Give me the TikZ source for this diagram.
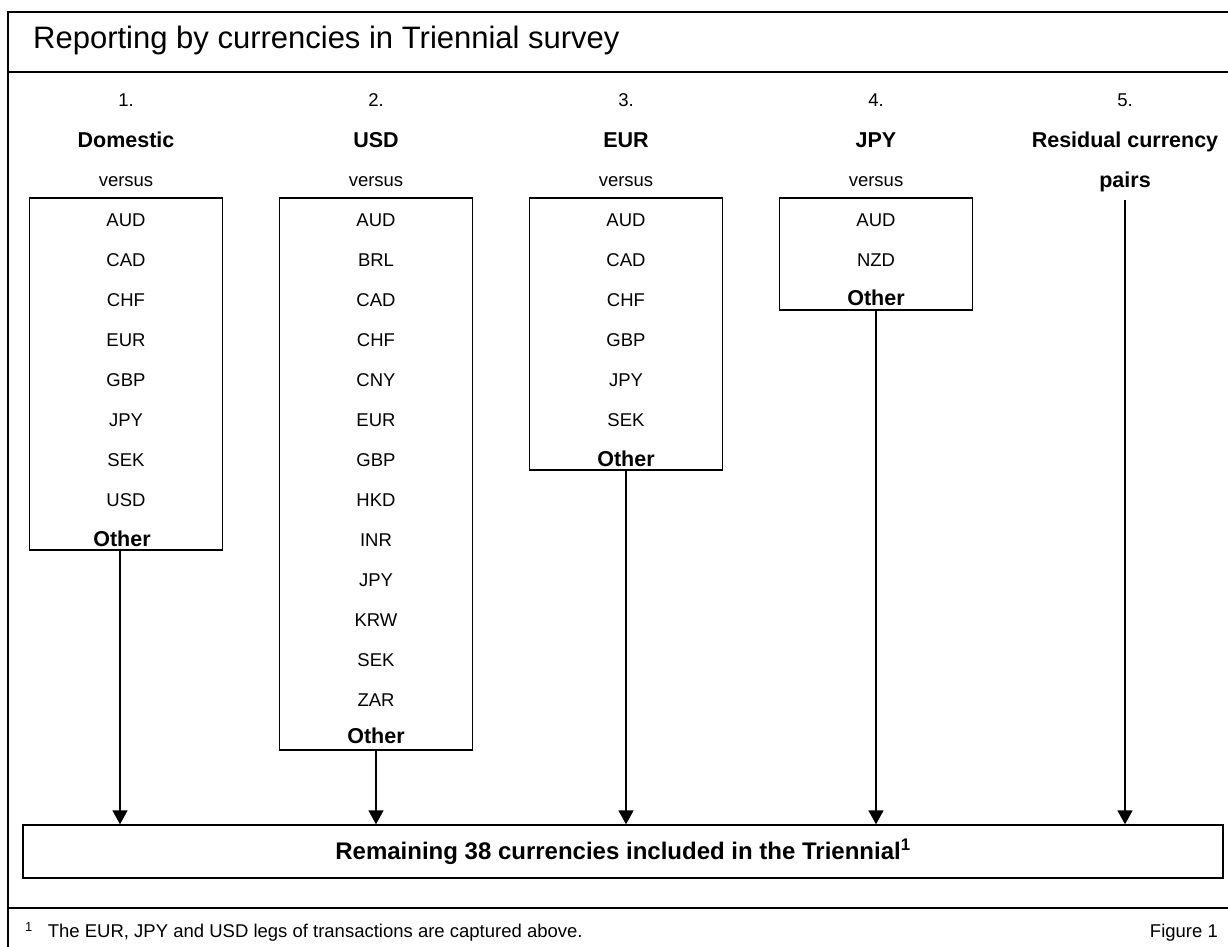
\documentclass[tikz,border=0pt]{standalone}
\usepackage{fontspec}
\setmainfont{Liberation Sans}
\usetikzlibrary{arrows.meta}

\begin{document}
\begin{tikzpicture}[x=1pt,y=-1pt,
  frame/.style={line width=2pt},
  curbox/.style={draw,line width=1.3pt,minimum width=193pt,inner sep=0pt},
  item/.style={font=\fontsize{18.5}{21}\selectfont,text height=13.2pt,text depth=0pt,inner sep=0pt},
  head/.style={font=\fontsize{21.5}{24}\selectfont\bfseries,text height=15.4pt,text depth=0pt,inner sep=0pt},
  foot/.style={font=\fontsize{18.5}{21}\selectfont,text height=13.2pt,text depth=0pt,inner sep=0pt},
  flow/.style={line width=1.3pt,-{Triangle[width=15pt,length=14pt]}}]
\useasboundingbox (0,0) rectangle (1228,947);

% outer frame
\draw[frame] (1228,12) -- (8,12) -- (8,947);
\draw[frame] (8,72) -- (1228,72);
\draw[frame] (8,908) -- (1228,908);
\node[anchor=west,font=\fontsize{31}{34}\selectfont,text height=22pt,text depth=0pt,inner sep=0pt] (T) at (33,38) {Reporting by currencies in Triennial survey};

% column headings
\node[item] (N1) at (126,100) {1.};
\node[item] (N2) at (376,100) {2.};
\node[item] (N3) at (626,100) {3.};
\node[item] (N4) at (876,100) {4.};
\node[item] (N5) at (1125,100) {5.};
\node[head] (H1) at (126,140) {Domestic};
\node[head] (H2) at (376,140) {USD};
\node[head] (H3) at (626,140) {EUR};
\node[head] (H4) at (876,140) {JPY};
\node[head] (H5a) at (1125,140) {Residual currency};
\node[head] (H5b) at (1125,180) {pairs};
\node[item] (V1) at (126,180) {versus};
\node[item] (V2) at (376,180) {versus};
\node[item] (V3) at (626,180) {versus};
\node[item] (V4) at (876,180) {versus};

% 1. domestic
\node[curbox,minimum height=352pt] (B1) at (126,374) {};
\foreach \c [count=\i] in {AUD,CAD,CHF,EUR,GBP,JPY,SEK,USD}
  \node[item] (B1-\i) at (126,180+40*\i) {\c};
\node[head] (O1) at (122,539) {Other};

% 2. USD
\node[curbox,minimum height=552pt] (B2) at (376,474) {};
\foreach \c [count=\i] in {AUD,BRL,CAD,CHF,CNY,EUR,GBP,HKD,INR,JPY,KRW,SEK,ZAR}
  \node[item] (B2-\i) at (376,180+40*\i) {\c};
\node[head] (O2) at (376,736) {Other};

% 3. EUR
\node[curbox,minimum height=272pt] (B3) at (626,334) {};
\foreach \c [count=\i] in {AUD,CAD,CHF,GBP,JPY,SEK}
  \node[item] (B3-\i) at (626,180+40*\i) {\c};
\node[head] (O3) at (626,459) {Other};

% 4. JPY
\node[curbox,minimum height=112pt] (B4) at (876,254) {};
\foreach \c [count=\i] in {AUD,NZD}
  \node[item] (B4-\i) at (876,180+40*\i) {\c};
\node[head] (O4) at (876,298) {Other};

% remaining currencies
\node[curbox,minimum width=1200pt,minimum height=53pt,font=\fontsize{24}{26}\selectfont\bfseries] (R) at (623,851.5) {Remaining 38 currencies included in the Triennial\textsuperscript{1}};
\coordinate (A1) at (120,551);
\coordinate (P5) at (1125,200);

\draw[flow] (A1) -- (R.north -| A1);
\draw[flow] (B2.south) -- (R.north -| B2);
\draw[flow] (B3.south) -- (R.north -| B3);
\draw[flow] (B4.south) -- (R.north -| B4);
\draw[flow] (P5) -- (R.north -| P5);

% footer
\node[foot,anchor=west] (F) at (25,931) {\textsuperscript{1}\hspace{15pt}The EUR, JPY and USD legs of transactions are captured above.};
\node[foot,anchor=east] (Fig) at (1218,931) {Figure 1};
\end{tikzpicture}
\end{document}
